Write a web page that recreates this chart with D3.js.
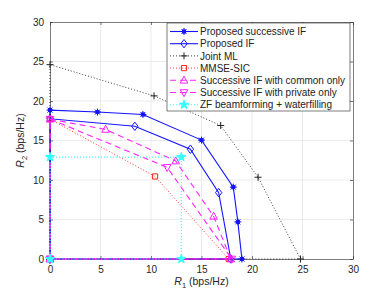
<!DOCTYPE html>
<html>
<head>
<meta charset="utf-8">
<script src="https://cdn.jsdelivr.net/npm/d3@7"></script>
<style>
  body { margin: 0; background: #fff; }
  text { font-family: "Liberation Sans", Arial, sans-serif; }
  .axis text { font-size: 10px; fill: #262626; }
  .axis path, .axis line { stroke: #262626; stroke-width: 0.6; }
</style>
</head>
<body>
<svg id="chart"></svg>
<script>
// Rate region corner points (bps/Hz), each closed back at the origin
const succIF_R1 = [0, 0, 4.7, 9.2, 15.0, 18.15, 18.6, 19.0, 0];
const succIF_R2 = [0, 18.85, 18.6, 18.3, 15.05, 9.1, 4.7, 0, 0];
const propIF_R1 = [0, 0, 8.4, 13.9, 16.7, 17.9, 0];
const propIF_R2 = [0, 17.75, 16.8, 13.9, 8.4, 0, 0];
const jointML_R1 = [0, 0, 10.3, 16.9, 20.6, 24.8, 0];
const jointML_R2 = [0, 24.6, 20.65, 16.9, 10.35, 0, 0];
const mmse_R1 = [0, 0, 10.4, 17.7, 0];
const mmse_R2 = [0, 17.7, 10.45, 0, 0];
const common_R1 = [0, 0, 5.5, 12.45, 16.2, 17.9, 0];
const common_R2 = [0, 17.7, 16.4, 12.4, 5.4, 0, 0];
const private_R1 = [0, 0, 11.6, 18.0, 0];
const private_R2 = [0, 17.7, 11.6, 0, 0];
const zf_R1 = [0, 0, 13.0, 13.0, 0];
const zf_R2 = [0, 12.9, 12.9, 0, 0];

const seriesNames = [
  'Proposed successive IF',
  'Proposed IF',
  'Joint ML',
  'MMSE-SIC',
  'Successive IF with common only',
  'Successive IF with private only',
  'ZF beamforming + waterfilling'
];
const tickValues = [0, 5, 10, 15, 20, 25, 30];

const width = 390, height = 293;
const margin = { top: 22, right: 37, bottom: 34, left: 50 };
const w = width - margin.left - margin.right;
const h = height - margin.top - margin.bottom;

const svg = d3.select('#chart').attr('width', width).attr('height', height);
const g = svg.append('g').attr('transform', `translate(${margin.left},${margin.top})`);

const x = d3.scaleLinear().domain([0, 30]).range([0, w]);
const y = d3.scaleLinear().domain([0, 30]).range([h, 0]);

// grid
g.append('g').selectAll('line').data(tickValues.slice(1, -1)).join('line')
  .attr('x1', d => x(d)).attr('x2', d => x(d)).attr('y1', 0).attr('y2', h)
  .attr('stroke', '#e6e6e6').attr('stroke-width', 0.8);
g.append('g').selectAll('line').data(tickValues.slice(1, -1)).join('line')
  .attr('y1', d => y(d)).attr('y2', d => y(d)).attr('x1', 0).attr('x2', w)
  .attr('stroke', '#e6e6e6').attr('stroke-width', 0.8);

// axes (ticks inside, box on)
g.append('g').attr('class', 'axis').attr('transform', `translate(0,${h})`)
  .call(d3.axisBottom(x).tickValues(tickValues).tickSizeInner(-3).tickSizeOuter(0).tickPadding(7));
g.append('g').attr('class', 'axis')
  .call(d3.axisLeft(y).tickValues(tickValues).tickSizeInner(-3).tickSizeOuter(0).tickPadding(6));
g.append('g').attr('class', 'axis')
  .call(d3.axisTop(x).tickValues(tickValues).tickSizeInner(-3).tickSizeOuter(0).tickFormat(''));
g.append('g').attr('class', 'axis').attr('transform', `translate(${w},0)`)
  .call(d3.axisRight(y).tickValues(tickValues).tickSizeInner(-3).tickSizeOuter(0).tickFormat(''));

// marker shapes
const markers = {
  asterisk: 'M-3.5,0H3.5M0,-3.5V3.5M-2.5,-2.5L2.5,2.5M-2.5,2.5L2.5,-2.5',
  diamond: 'M0,-4.2L3.2,0L0,4.2L-3.2,0Z',
  plus: 'M-3.5,0H3.5M0,-3.5V3.5',
  square: 'M-2.6,-2.6H2.6V2.6H-2.6Z',
  triUp: 'M0,-4.2L3.8,2.8L-3.8,2.8Z',
  triDown: 'M0,4.2L3.8,-2.8L-3.8,-2.8Z',
  star: d3.symbol(d3.symbolStar, 26)()
};

const series = [
  { R1: succIF_R1, R2: succIF_R2, color: '#1414ff', dash: null, lw: 1.1, marker: 'asterisk', fill: '#1414ff', dot: true },
  { R1: propIF_R1, R2: propIF_R2, color: '#1414ff', dash: null, lw: 1.1, marker: 'diamond', fill: 'none' },
  { R1: jointML_R1, R2: jointML_R2, color: '#222', dash: '1,2', lw: 0.9, marker: 'plus', fill: 'none' },
  { R1: mmse_R1, R2: mmse_R2, color: '#ff2020', dash: '1,2', lw: 0.9, marker: 'square', fill: 'none' },
  { R1: common_R1, R2: common_R2, color: '#ff22ff', dash: '6,4', lw: 1.1, marker: 'triUp', fill: 'none' },
  { R1: private_R1, R2: private_R2, color: '#ff22ff', dash: '6,4', lw: 1.1, marker: 'triDown', fill: 'none' },
  { R1: zf_R1, R2: zf_R2, color: '#33ffff', dash: '1,2', lw: 1.1, marker: 'star', fill: '#33ffff' }
];

const line = d3.line().x(d => x(d[0])).y(d => y(d[1]));

function drawMarker(sel, s) {
  if (s.dot) sel.append('circle').attr('r', 2.3).attr('fill', s.color);
  sel.append('path').attr('d', markers[s.marker])
    .attr('fill', s.fill).attr('stroke', s.color).attr('stroke-width', 1);
}

series.forEach(s => {
  const pts = s.R1.map((v, i) => [v, s.R2[i]]);
  g.append('path').datum(pts).attr('d', line)
    .attr('fill', 'none').attr('stroke', s.color).attr('stroke-width', s.lw)
    .attr('stroke-dasharray', s.dash);
  g.append('g').selectAll('g').data(pts).join('g')
    .attr('transform', d => `translate(${x(d[0])},${y(d[1])})`)
    .each(function () { drawMarker(d3.select(this), s); });
});

// axis titles
svg.append('text').attr('x', margin.left + w / 2).attr('y', 285)
  .attr('text-anchor', 'middle').attr('font-size', 10.5).attr('fill', '#262626')
  .html('<tspan font-style="italic">R</tspan><tspan dy="3" font-size="7.5">1</tspan><tspan dy="-3"> (bps/Hz)</tspan>');
svg.append('text').attr('transform', `translate(24,${margin.top + h / 2}) rotate(-90)`)
  .attr('text-anchor', 'middle').attr('font-size', 10.5).attr('fill', '#262626')
  .html('<tspan font-style="italic">R</tspan><tspan dy="3" font-size="7.5">2</tspan><tspan dy="-3"> (bps/Hz)</tspan>');

// legend
const legend = svg.append('g').attr('transform', 'translate(167,23)');
legend.append('rect').attr('width', 183).attr('height', 88)
  .attr('fill', '#fff').attr('stroke', '#262626').attr('stroke-width', 0.6);
series.forEach((s, i) => {
  const row = legend.append('g').attr('transform', `translate(0,${8.5 + i * 12.2})`);
  row.append('line').attr('x1', 3).attr('x2', 31).attr('y1', 0).attr('y2', 0)
    .attr('stroke', s.color).attr('stroke-width', s.lw).attr('stroke-dasharray', s.dash);
  drawMarker(row.append('g').attr('transform', 'translate(17,0)'), s);
  row.append('text').attr('x', 33).attr('y', 3.6).attr('font-size', 10).attr('fill', '#222')
    .text(seriesNames[i]);
});
</script>
</body>
</html>
